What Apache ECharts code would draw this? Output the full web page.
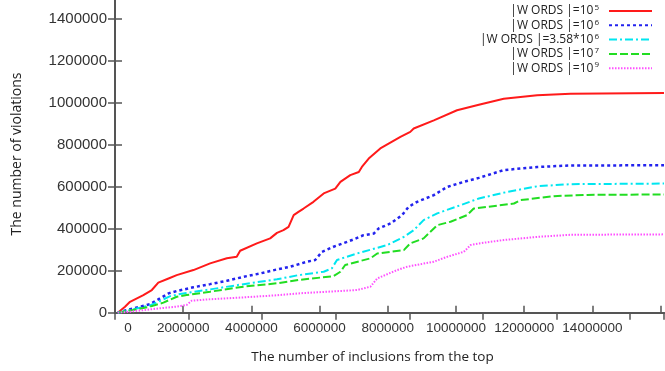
<!DOCTYPE html>
<html>
<head>
<meta charset="utf-8">
<script src="https://cdn.jsdelivr.net/npm/echarts@6/dist/echarts.min.js"></script>
<style>
  html, body { margin: 0; padding: 0; background: #fff; }
  #main { width: 665px; height: 371px; }
</style>
</head>
<body>
<div id="main"></div>
<script>
  // series names and their superscript exponents
  var seriesNames = ['w5', 'w6', 'w358', 'w7', 'w9'];
  var legendText = {
    w5: ['|W ORDS |=10', '5'],
    w6: ['|W ORDS |=10', '6'],
    w358: ['|W ORDS |=3.58*10', '6'],
    w7: ['|W ORDS |=10', '7'],
    w9: ['|W ORDS |=10', '9']
  };

  // [inclusions, violations]
  var red = [[80000, 0], [294000, 28500], [440000, 52000], [832000, 84000], [1080000, 108000],
    [1270000, 143000], [1570000, 163000], [1810000, 179000], [2300000, 203000], [2790000, 235000],
    [3280000, 259000], [3570000, 266000], [3670000, 295000], [4160000, 330000], [4550000, 354000],
    [4750000, 380000], [4940000, 393000], [5090000, 409000], [5240000, 465000], [5380000, 480000],
    [5530000, 496000], [5820000, 528000], [6120000, 568000], [6460000, 591000], [6610000, 623000],
    [6900000, 655000], [7150000, 670000], [7240000, 694000], [7440000, 734000], [7780000, 782000],
    [8370000, 837000], [8660000, 861000], [8760000, 877000], [9350000, 916000], [10030000, 964000],
    [10670000, 990000], [11400000, 1019000], [12380000, 1035000], [13360000, 1043000], [16100000, 1046000]];
  var blue = [[80000, 0], [538000, 21000], [1030000, 41000], [1320000, 68000], [1570000, 92000],
    [1810000, 103000], [2300000, 121000], [2790000, 136000], [3280000, 152000], [3770000, 171000],
    [4260000, 187000], [4750000, 206000], [5140000, 219000], [5630000, 243000], [5870000, 251000],
    [6070000, 290000], [6410000, 314000], [6950000, 346000], [7290000, 369000], [7590000, 377000],
    [7730000, 401000], [8080000, 425000], [8420000, 465000], [8610000, 504000], [8860000, 528000],
    [9350000, 560000], [9740000, 599000], [10230000, 623000], [10670000, 642000], [11400000, 679000],
    [12380000, 694000], [13360000, 701000], [16100000, 702000]];
  var cyan = [[80000, 0], [538000, 16000], [1030000, 35000], [1370000, 60000], [1620000, 79000],
    [1910000, 89000], [2790000, 111000], [3770000, 136000], [4750000, 159000], [5380000, 179000],
    [6120000, 195000], [6360000, 211000], [6510000, 251000], [7100000, 282000], [7980000, 322000],
    [8470000, 361000], [8760000, 393000], [9050000, 441000], [9450000, 473000], [10130000, 512000],
    [10670000, 544000], [11500000, 575000], [12380000, 602000], [13360000, 612000], [16100000, 615000]];
  var green = [[80000, 0], [538000, 13000], [1030000, 29000], [1420000, 48000], [1810000, 76000],
    [2100000, 84000], [2790000, 100000], [3770000, 124000], [4750000, 140000], [5380000, 156000],
    [6410000, 174000], [6610000, 195000], [6750000, 227000], [7490000, 259000], [7690000, 282000],
    [8470000, 298000], [8660000, 330000], [9050000, 354000], [9450000, 417000], [9840000, 433000],
    [10330000, 465000], [10520000, 496000], [11700000, 520000], [11890000, 536000], [12870000, 555000],
    [13850000, 561000], [16100000, 563000]];
  var magenta = [[80000, 0], [440000, 5000], [1320000, 21000], [1810000, 29000], [2100000, 37000],
    [2250000, 57000], [2790000, 64000], [3770000, 73000], [4750000, 83000], [5380000, 92000],
    [7100000, 108000], [7490000, 124000], [7690000, 163000], [8270000, 203000], [8570000, 219000],
    [9350000, 243000], [9740000, 266000], [10230000, 290000], [10430000, 322000], [10670000, 330000],
    [11400000, 346000], [12380000, 361000], [13360000, 371000], [16100000, 373000]];

  var seriesData = [red, blue, cyan, green, magenta];
  var colors = ['#ff1a1a', '#2323ee', '#00e6f0', '#22dd22', '#ff50ff'];
  var dashes = ['solid', [3, 3], [8, 3, 2, 3], [8, 3], [1.5, 1.5]];
  var widths = [2, 2.5, 2, 2, 2];

  var chart = echarts.init(document.getElementById('main'));

  var series = seriesNames.map(function (n, i) {
    return {
      name: n,
      type: 'line',
      data: seriesData[i],
      symbol: 'none',
      animation: false,
      lineStyle: { color: colors[i], width: widths[i], type: dashes[i] },
      itemStyle: { color: colors[i] }
    };
  });

  var axisCol = '#555';

  chart.setOption({
    backgroundColor: '#fff',
    animation: false,
    grid: { left: 115, right: 1, top: -2.3, bottom: 58.3, outerBoundsMode: 'none', containLabel: false },
    legend: {
      orient: 'vertical',
      right: 12,
      top: 4,
      padding: 0,
      align: 'right',
      itemWidth: 43,
      itemHeight: 14,
      itemGap: 1.3,
      data: seriesNames,
      itemStyle: { opacity: 0 },
      formatter: function (n) {
        return '{t|' + legendText[n][0] + '}{s|' + legendText[n][1] + '}';
      },
      textStyle: {
        padding: [0, 5, 0, 0],
        rich: {
          t: { fontFamily: 'Open Sans', fontSize: 12, color: '#222', lineHeight: 14 },
          s: { fontFamily: 'Open Sans', fontSize: 8, color: '#222', verticalAlign: 'top', padding: [0, 0, 4, 1] }
        }
      }
    },
    graphic: [
      {
        type: 'text', x: 17, y: 154, rotation: Math.PI / 2,
        style: { text: 'The number of violations', fontFamily: 'Open Sans', fontSize: 14,
          fill: '#222', align: 'center', verticalAlign: 'middle' }
      },
      {
        type: 'text', x: 372.5, y: 357,
        style: { text: 'The number of inclusions from the top', fontFamily: 'Open Sans', fontSize: 13.5,
          fill: '#222', align: 'center', verticalAlign: 'middle' }
      }
    ],
    xAxis: [{
      type: 'value',
      min: 0,
      max: 16100000,
      interval: 2000000,
      axisLine: { show: true, lineStyle: { color: axisCol, width: 2 } },
      axisTick: { show: true, inside: true, length: 7, lineStyle: { color: axisCol, width: 1.5 } },
      splitLine: { show: false },
      axisLabel: {
        showMaxLabel: false,
        hideOverlap: false,
        margin: 9,
        fontFamily: 'Liberation Sans',
        fontSize: 13.5,
        color: '#333',
        formatter: function (v) {
          if (v === 0) return '{z|0}';
          return v > 15000000 ? '' : String(v);
        },
        rich: { z: { fontFamily: 'Liberation Sans', fontSize: 13.5, color: '#333', padding: [0, 0, 0, 26] } }
      }
    }, {
      type: 'value',
      position: 'top',
      min: 0,
      max: 7.46,
      interval: 1,
      axisLine: { show: true, lineStyle: { color: axisCol, width: 2 } },
      axisTick: { show: true, inside: true, length: 7, lineStyle: { color: axisCol, width: 1.5 } },
      axisLabel: { show: false },
      splitLine: { show: false }
    }],
    yAxis: [{
      type: 'value',
      min: 0,
      max: 1500000,
      interval: 200000,
      axisLine: { show: true, lineStyle: { color: axisCol, width: 2 } },
      axisTick: { show: true, inside: true, length: 7, lineStyle: { color: axisCol, width: 1.5 } },
      splitLine: { show: false },
      axisLabel: {
        showMaxLabel: false,
        margin: 8,
        fontFamily: 'Liberation Sans',
        fontSize: 15,
        color: '#333',
        formatter: function (v) { return String(v); }
      }
    }, {
      type: 'value',
      position: 'right',
      min: 0,
      max: 1500000,
      interval: 200000,
      axisLine: { show: true, lineStyle: { color: axisCol, width: 2 } },
      axisTick: { show: true, inside: true, length: 7, lineStyle: { color: axisCol, width: 1.5 } },
      axisLabel: { show: false },
      splitLine: { show: false }
    }],
    series: series
  });
</script>
</body>
</html>
